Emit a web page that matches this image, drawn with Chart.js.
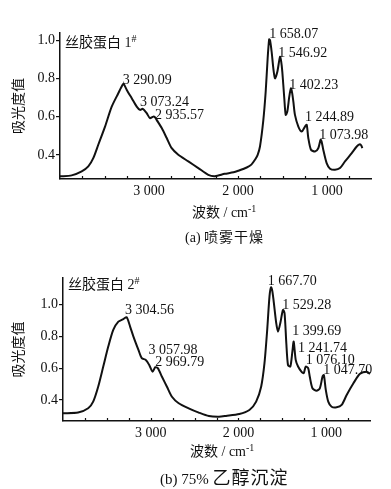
<!DOCTYPE html>
<html lang="zh">
<head>
<meta charset="UTF-8">
<title>丝胶蛋白红外光谱</title>
<script src="https://cdn.jsdelivr.net/npm/chart.js"></script>
<style>
  body { margin:0; background:#fff; width:391px; height:489px; position:relative; overflow:hidden;
         font-family:"Liberation Serif","Noto Sans CJK SC",serif; color:#111; }
  canvas { position:absolute; left:0; }
  #chartA { top:0; }
  #chartB { top:240px; }
  .txt { position:absolute; white-space:nowrap; font-size:14px; line-height:16px; }
  .cjk { font-family:"Noto Sans CJK SC",sans-serif; }
  .sup { position:relative; top:-5px; font-size:10px; }
</style>
</head>
<body>
<canvas id="chartA" width="391" height="240"></canvas>
<canvas id="chartB" width="391" height="249"></canvas>

<div class="txt" style="left:65px;top:33px"><span class="cjk">丝胶蛋白</span> 1<span class="sup">#</span></div>
<div class="txt" style="left:68px;top:275px"><span class="cjk">丝胶蛋白</span> 2<span class="sup">#</span></div>
<div class="txt" style="left:192px;top:203px"><span class="cjk">波数</span> / cm<span class="sup">-1</span></div>
<div class="txt" style="left:190px;top:442px"><span class="cjk">波数</span> / cm<span class="sup">-1</span></div>
<div class="txt" style="left:185px;top:228px">(a) <span class="cjk" style="letter-spacing:1px">喷雾干燥</span></div>
<div class="txt" style="left:160px;top:468px;font-size:15px">(b) 75% <span class="cjk" style="font-size:18px;letter-spacing:1px">乙醇沉淀</span></div>

<script>
  // panel (a) spray dried
  const wnA = [4000, 3869, 3756, 3682, 3626, 3570, 3494, 3419, 3345, 3300, 3285, 3251, 3194, 3138, 3101, 3070,
    3026, 2989, 2952, 2930, 2914, 2857, 2801, 2745, 2671, 2558, 2446, 2334, 2258, 2150, 2050, 1997, 1902, 1850,
    1809, 1780, 1753, 1716, 1689, 1667, 1650, 1640, 1622, 1603, 1584, 1558, 1528, 1515, 1502, 1480, 1464, 1446,
    1424, 1405, 1390, 1378, 1360, 1322, 1284, 1247, 1228, 1210, 1180, 1135, 1098, 1072, 1060, 1042, 1004, 966,
    910, 854, 798, 722, 666, 629, 615, 603];
  const absA = [0.289, 0.294, 0.315, 0.341, 0.384, 0.454, 0.549, 0.653, 0.723, 0.765, 0.772, 0.742, 0.697, 0.653, 0.636, 0.642,
    0.619, 0.593, 0.601, 0.596, 0.584, 0.541, 0.489, 0.436, 0.402, 0.367, 0.332, 0.297, 0.290, 0.302, 0.310, 0.318, 0.335, 0.350,
    0.376, 0.400, 0.445, 0.580, 0.731, 0.905, 1.005, 1.000, 0.940, 0.853, 0.801, 0.835, 0.914, 0.890, 0.835, 0.697, 0.610, 0.627,
    0.705, 0.749, 0.720, 0.679, 0.610, 0.549, 0.523, 0.549, 0.558, 0.489, 0.428, 0.419, 0.436, 0.480, 0.470, 0.428, 0.358, 0.329,
    0.323, 0.332, 0.367, 0.410, 0.445, 0.457, 0.450, 0.436];
  const peakTextA = ['3 290.09', '3 073.24', '2 935.57', '1 658.07', '1 546.92', '1 402.23', '1 244.89', '1 073.98'];
  const peakWnA = [3295, 3101, 2933, 1648, 1547, 1424, 1247, 1086];
  const peakAbsA = [0.792, 0.678, 0.610, 1.032, 0.933, 0.766, 0.599, 0.505];

  // panel (b) 75% ethanol precipitated
  const wnB = [4000, 3828, 3713, 3656, 3599, 3541, 3484, 3427, 3369, 3312, 3274, 3235, 3197, 3140, 3102, 3056,
    3017, 2979, 2948, 2919, 2873, 2815, 2758, 2681, 2567, 2452, 2337, 2222, 2142, 1990, 1875, 1798, 1741, 1703,
    1672, 1646, 1628, 1615, 1600, 1569, 1549, 1523, 1492, 1474, 1454, 1435, 1408, 1385, 1370, 1347, 1320, 1282,
    1256, 1233, 1205, 1187, 1156, 1110, 1072, 1041, 1026, 1004, 976, 938, 881, 823, 766, 689, 614, 537, 500];
  const absB = [0.316, 0.320, 0.347, 0.389, 0.483, 0.610, 0.736, 0.841, 0.893, 0.909, 0.921, 0.862, 0.799, 0.715, 0.663, 0.652,
    0.620, 0.578, 0.606, 0.600, 0.547, 0.483, 0.420, 0.379, 0.347, 0.320, 0.298, 0.294, 0.299, 0.311, 0.336, 0.389, 0.483, 0.631,
    0.841, 1.051, 1.110, 1.090, 1.030, 0.883, 0.830, 0.883, 0.967, 0.946, 0.757, 0.620, 0.610, 0.704, 0.767, 0.652, 0.610, 0.578,
    0.568, 0.610, 0.600, 0.547, 0.473, 0.458, 0.473, 0.547, 0.557, 0.463, 0.389, 0.357, 0.353, 0.368, 0.431, 0.505, 0.564, 0.578, 0.564];
  const peakTextB = ['3 304.56', '3 057.98', '2 969.79', '1 667.70', '1 529.28', '1 399.69', '1 241.74', '1 076.10', '1 047.70'];
  const peakWnB = [3292, 3025, 2948, 1666, 1500, 1385, 1320, 1233, 1033];
  const peakAbsB = [0.967, 0.715, 0.639, 1.144, 0.993, 0.829, 0.728, 0.652, 0.589];

  const tickMarksX = [3750, 3500, 3250, 3000, 2750, 2500, 2250, 2000, 1750, 1500, 1250, 1000, 750];
  const tickLabelsX = [3000, 2000, 1000];
  const tickLabelsY = [0.4, 0.6, 0.8, 1.0];

  const serif = '"Liberation Serif", "Times New Roman", serif';
  const cjk = '"Noto Sans CJK SC", sans-serif';
  const ink = '#111';

  // inward x ticks + peak labels
  function marksPlugin(texts, wns, abss) {
    return {
      id: 'marks',
      afterDatasetsDraw(chart) {
        const { ctx, chartArea, scales: { x, y } } = chart;
        ctx.save();
        ctx.strokeStyle = ink;
        ctx.lineWidth = 1.2;
        tickMarksX.forEach(v => {
          const px = Math.round(x.getPixelForValue(v)) + 0.5;
          ctx.beginPath();
          ctx.moveTo(px, chartArea.bottom);
          ctx.lineTo(px, chartArea.bottom - 3);
          ctx.stroke();
        });
        ctx.fillStyle = ink;
        ctx.font = '14px ' + serif;
        ctx.textAlign = 'left';
        ctx.textBaseline = 'middle';
        texts.forEach((t, i) => ctx.fillText(t, x.getPixelForValue(wns[i]), y.getPixelForValue(abss[i])));
        ctx.restore();
      }
    };
  }

  function makeChart(id, wn, abs, yMin, yMax, box, texts, wns, abss) {
    return new Chart(document.getElementById(id), {
      type: 'line',
      data: {
        datasets: [{
          data: wn.map((w, i) => ({ x: w, y: abs[i] })),
          borderColor: ink,
          borderWidth: 2,
          pointRadius: 0,
          tension: 0.25,
          fill: false
        }]
      },
      options: {
        responsive: false,
        animation: false,
        layout: { padding: { left: 0, top: box.top, right: box.right, bottom: 0 } },
        plugins: { legend: { display: false }, tooltip: { enabled: false } },
        scales: {
          x: {
            type: 'linear',
            reverse: true,
            min: 500,
            max: 4000,
            afterFit(s) { s.height = box.xh; },
            afterBuildTicks(s) { s.ticks = tickLabelsX.map(v => ({ value: v })); },
            ticks: {
              callback: v => String(v).replace(/(\d)(\d{3})$/, '$1 $2'),
              font: { family: serif, size: 14 },
              color: ink,
              padding: 4,
              maxRotation: 0,
              autoSkip: false
            },
            grid: { display: false, drawTicks: false },
            border: { color: ink, width: 1.5 }
          },
          y: {
            min: yMin,
            max: yMax,
            afterFit(s) { s.width = box.yw; },
            afterBuildTicks(s) { s.ticks = tickLabelsY.map(v => ({ value: v })); },
            ticks: {
              callback: v => Number(v).toFixed(1),
              font: { family: serif, size: 14 },
              color: ink,
              padding: 1
            },
            grid: { drawOnChartArea: false, tickLength: 4, color: ink, lineWidth: 1.2 },
            border: { color: ink, width: 1.5 },
            title: {
              display: true,
              text: '吸光度值',
              font: { family: cjk, size: 14 },
              color: ink,
              padding: { top: 9, bottom: 0 }
            }
          }
        }
      },
      plugins: [marksPlugin(texts, wns, abss)]
    });
  }

  makeChart('chartA', wnA, absA, 0.275, 1.038, { top: 33, right: 19.5, xh: 61, yw: 60 }, peakTextA, peakWnA, peakAbsA);
  makeChart('chartB', wnB, absB, 0.267, 1.168, { top: 38, right: 21, xh: 68, yw: 63 }, peakTextB, peakWnB, peakAbsB);
</script>
</body>
</html>
